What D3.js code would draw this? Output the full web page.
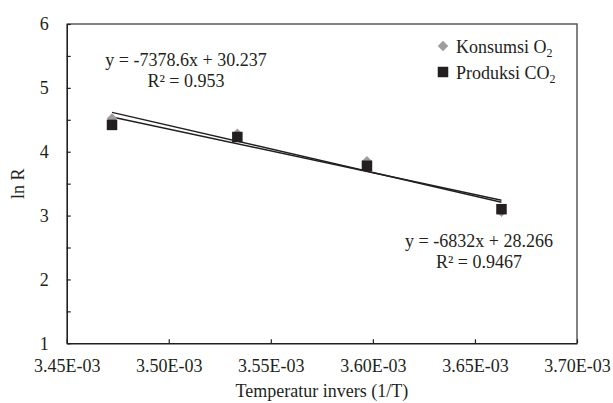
<!DOCTYPE html>
<html>
<head>
<meta charset="utf-8">
<script src="https://cdn.jsdelivr.net/npm/d3@7"></script>
<style>
  body { margin: 0; background: #fff; }
  svg text { font-family: "Liberation Serif", "Times New Roman", serif; fill: #231f20; }
</style>
</head>
<body>
<svg id="chart" width="613" height="403"></svg>
<script>
(function() {

// 1/T for 15, 10, 5 and 0 degC
const invT = [3.4722e-3, 3.5336e-3, 3.5971e-3, 3.6630e-3];
const konsumsiO2 = [4.52, 4.28, 3.85, 3.06];
const produksiCO2 = [4.42, 4.23, 3.78, 3.10];

// trendlines: [O2, CO2]
const trendSlopes = [-7378.6, -6832];
const trendIntercepts = [30.237, 28.266];
const trendEq = ['y = -7378.6x + 30.237', 'y = -6832x + 28.266'];
const trendR2 = ['R² = 0.953', 'R² = 0.9467'];

const xTicks = [3.45e-3, 3.50e-3, 3.55e-3, 3.60e-3, 3.65e-3, 3.70e-3];
const yTicks = [1, 1.5, 2, 2.5, 3, 3.5, 4, 4.5, 5, 5.5, 6];

const svg = d3.select('#chart');
const left = 66.7, right = 577, top = 24, bottom = 343.3;
const fontSize = 18;

const x = d3.scaleLinear().domain([3.45e-3, 3.70e-3]).range([left, right]);
const y = d3.scaleLinear().domain([1, 6]).range([bottom, top]);

// frame (top + right)
svg.append('path')
  .attr('d', `M${left},${top}H${right}V${bottom}`)
  .attr('fill', 'none')
  .attr('stroke', '#5a5a5a')
  .attr('stroke-width', 1.5);

const xAxis = d3.axisBottom(x)
  .tickValues(xTicks)
  .tickSizeInner(-4)
  .tickSizeOuter(0)
  .tickPadding(16)
  .tickFormat(d => `${(d * 1000).toFixed(2)}E-03`);

const yAxis = d3.axisLeft(y)
  .tickValues(yTicks)
  .tickSizeInner(-4)
  .tickSizeOuter(0)
  .tickPadding(18)
  .tickFormat(d => Number.isInteger(d) ? d : '');

const gx = svg.append('g')
  .attr('transform', `translate(0,${bottom})`)
  .call(xAxis);
const gy = svg.append('g')
  .attr('transform', `translate(${left},0)`)
  .call(yAxis);

[gx, gy].forEach(g => {
  g.select('.domain').attr('stroke', '#231f20').attr('stroke-width', 1.6);
  g.selectAll('.tick line').attr('stroke', '#231f20').attr('stroke-width', 1.2);
  g.selectAll('.tick text')
    .style('font-family', '"Liberation Serif", serif')
    .style('font-size', fontSize + 'px')
    .attr('fill', '#231f20');
});

// axis titles
svg.append('text')
  .attr('x', (left + right) / 2)
  .attr('y', 397)
  .attr('text-anchor', 'middle')
  .style('font-size', fontSize + 'px')
  .text('Temperatur invers (1/T)');

svg.append('text')
  .attr('transform', `translate(24,${(top + bottom) / 2}) rotate(-90)`)
  .attr('text-anchor', 'middle')
  .style('font-size', fontSize + 'px')
  .text('ln R');

// trendlines
const xMin = d3.min(invT), xMax = d3.max(invT);
trendSlopes.forEach((m, i) => {
  const b = trendIntercepts[i];
  svg.append('line')
    .attr('x1', x(xMin)).attr('y1', y(m * xMin + b))
    .attr('x2', x(xMax)).attr('y2', y(m * xMax + b))
    .attr('stroke', '#231f20')
    .attr('stroke-width', 1.4);
});

const diamond = d3.symbol().type(d3.symbolDiamond2).size(70);

// O2 diamonds
svg.append('g').selectAll('path')
  .data(konsumsiO2)
  .join('path')
    .attr('d', diamond)
    .attr('transform', (d, i) => `translate(${x(invT[i])},${y(d)})`)
    .attr('fill', '#9d9d9d');

// CO2 squares
const sq = 10.5;
svg.append('g').selectAll('rect')
  .data(produksiCO2)
  .join('rect')
    .attr('x', (d, i) => x(invT[i]) - sq / 2)
    .attr('y', d => y(d) - sq / 2)
    .attr('width', sq)
    .attr('height', sq)
    .attr('fill', '#231f20');

// equations
const eqPos = [[186, 66, 87], [479, 247, 268]];
eqPos.forEach((p, i) => {
  svg.append('text')
    .attr('x', p[0]).attr('y', p[1])
    .attr('text-anchor', 'middle')
    .style('font-size', fontSize + 'px')
    .text(trendEq[i]);
  svg.append('text')
    .attr('x', p[0]).attr('y', p[2])
    .attr('text-anchor', 'middle')
    .style('font-size', fontSize + 'px')
    .text(trendR2[i]);
});

// legend
const legend = svg.append('g');
legend.append('path')
  .attr('d', diamond)
  .attr('transform', 'translate(443,46)')
  .attr('fill', '#9d9d9d');
legend.append('rect')
  .attr('x', 443 - sq / 2).attr('y', 72 - sq / 2)
  .attr('width', sq).attr('height', sq)
  .attr('fill', '#231f20');

const legendItems = [['Konsumsi O', 53], ['Produksi CO', 79]];
legendItems.forEach(([label, ly]) => {
  const t = legend.append('text')
    .attr('x', 456).attr('y', ly)
    .style('font-size', fontSize + 'px');
  t.append('tspan').text(label);
  t.append('tspan')
    .attr('dy', 4)
    .style('font-size', '12px')
    .text('2');
});

})();
</script>
</body>
</html>
